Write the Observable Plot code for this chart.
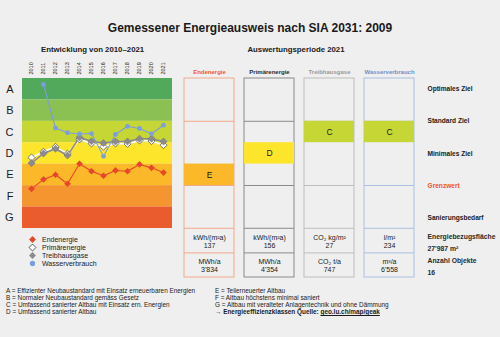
<!DOCTYPE html>
<html><head><meta charset="utf-8">
<script src="https://cdn.jsdelivr.net/npm/d3@7"></script>
<script src="https://cdn.jsdelivr.net/npm/@observablehq/plot@0.6"></script>
<style>
body{margin:0;background:#efefef;font-family:"Liberation Sans",Arial,sans-serif;}
#root{position:relative;width:500px;height:337px;overflow:hidden;background:#efefef;color:#1a1a1a;}
.abs{position:absolute;white-space:nowrap;}
.t{font-weight:bold;}
.foot{font-size:6.4px;line-height:7.2px;}
.foot a{color:#1a1a1a;}
</style></head><body><div id="root"></div>
<script>
// ---- data ----
const years = [2010,2011,2012,2013,2014,2015,2016,2017,2018,2019,2020,2021];
const classes = ["A","B","C","D","E","F","G"];
const classColors = ["#52a85b","#8bc052","#c6d634","#fde52c","#fbb828","#f5952f","#ea5b2d"];
// values in class units (0 = top of A, 7 = bottom of G)
const endenergie = [5.15,4.71,4.49,4.91,3.98,4.33,4.54,4.29,4.33,4.01,4.17,4.39];
const primaer    = [3.69,3.42,3.19,3.51,2.84,3.03,3.18,3.03,3.05,2.89,2.92,3.11];
const treibhaus  = [3.95,3.50,3.28,3.59,2.75,2.93,3.01,2.94,2.94,2.81,2.81,2.94];
const wasser     = [null,0.28,2.31,2.53,2.59,2.57,3.63,2.61,2.23,2.33,2.58,2.18];

const metrics = ["Endenergie","Primärenergie","Treibhausgase","Wasserverbrauch"];
const metricColors = ["#f05a28","#2a2a2a","#9a9a9a","#6f90c9"];
const boxStrokes = ["#f2a98c","#8a8a8a","#bdbdbd","#aabfe0"];
const grades2021 = ["E","D","C","C"];
const unit1 = ["kWh/(m²a)","kWh/(m²a)","CO₂ kg/m²","l/m²"];
const value1 = ["137","156","27","234"];
const unit2 = ["MWh/a","MWh/a","CO₂ t/a","m³/a"];
const value2 = ["3'834","4'354","747","6'558"];

const targetLabels = ["Optimales Ziel","Standard Ziel","Minimales Ziel","Grenzwert","Sanierungsbedarf"];
const targetAt = [0.5,2,3.5,5,6.5];

const legendNames = ["Endenergie","Primärenergie","Treibhausgase","Wasserverbrauch"];

const footLeft = ["A = Effizienter Neubaustandard mit Einsatz erneuerbaren Energien","B = Normaler Neubaustandard gemäss Gesetz","C = Umfassend sanierter Altbau mit Einsatz ern. Energien","D = Umfassend sanierter Altbau"];
const footRight = ["E = Teilerneuerter Altbau","F = Altbau höchstens minimal saniert","G = Altbau mit veralteter Anlagentechnik und ohne Dämmung"];

// ---- helpers ----
const FONT = '"Liberation Sans",Arial,sans-serif';
const root = document.getElementById("root");
function place(el, left, top){const d=document.createElement("div");d.className="abs";d.style.left=left+"px";d.style.top=top+"px";d.appendChild(el);root.appendChild(d);return d;}
function txt(s, left, top, size, extra){const d=document.createElement("div");d.className="abs t";d.textContent=s;d.style.left=left+"px";d.style.top=top+"px";d.style.fontSize=size+"px";d.style.lineHeight=size+"px";if(extra)Object.assign(d.style,extra);root.appendChild(d);return d;}

// titles
txt("Gemessener Energieausweis nach SIA 2031: 2009", 0, 22, 12, {width:"500px",textAlign:"center"});
txt("Entwicklung von 2010–2021", 41, 46, 7.8, {width:"100px",textAlign:"center"});
txt("Auswertungsperiode 2021", 246, 45.5, 7.8, {width:"100px",textAlign:"center"});

// ---- left chart ----
const classTable = classes.map((c,i)=>({cls:c, i, color:classColors[i]}));
const long = (arr, name) => years.map((y,i)=>({year:y, value:arr[i], series:name})).filter(d=>d.value!=null);
const dEnd = long(endenergie,"Endenergie"), dPri = long(primaer,"Primärenergie"), dTre = long(treibhaus,"Treibhausgase"), dWas = long(wasser,"Wasserverbrauch");

const left = Plot.plot({
  width:180, height:175, marginLeft:22, marginRight:8, marginTop:23, marginBottom:2,
  style:{background:"transparent", fontFamily:FONT, color:"#1a1a1a"},
  x:{type:"point", domain:years, padding:0.5, label:null},
  y:{domain:[0,7], reverse:true, label:null},
  color:{type:"identity"},
  marks:[
    Plot.rect(classTable,{y1:d=>d.i, y2:d=>d.i+1, fill:d=>d.color}),
    Plot.axisY({ticks:d3.range(7).map(i=>i+0.5), tickFormat:v=>classes[Math.floor(v)], tickSize:0, tickPadding:9, fontSize:11, anchor:"left", label:null}),
    Plot.axisX({anchor:"top", tickSize:0, tickPadding:4, tickRotate:-90, fontSize:5.5, tickFormat:d=>String(d), label:null}),
    Plot.line(dPri,{x:"year", y:"value", stroke:"#ffffff", strokeWidth:1.6}),
    Plot.line(dTre,{x:"year", y:"value", stroke:"#8a8a8f", strokeWidth:1.6}),
    Plot.line(dWas,{x:"year", y:"value", stroke:"#7b9de2", strokeWidth:1.1}),
    Plot.line(dEnd,{x:"year", y:"value", stroke:"#e8462a", strokeWidth:1.1}),
    Plot.dot(dPri,{x:"year", y:"value", symbol:"diamond2", r:3.2, fill:"#ffffff", stroke:"#555", strokeWidth:0.8}),
    Plot.dot(dTre,{x:"year", y:"value", symbol:"diamond2", r:3.2, fill:"#8a8a8f", stroke:"#7a7a7f", strokeWidth:0.6}),
    Plot.dot(dWas,{x:"year", y:"value", r:2.4, fill:"#7b9de2"}),
    Plot.dot(dEnd,{x:"year", y:"value", symbol:"diamond2", r:3, fill:"#e8462a"})
  ]
});
place(left, 0, 55);

// ---- legend ----
const legTable = legendNames.map((n,i)=>({name:n, i}));
const legSymbols = ["diamond2","diamond2","diamond2","circle"];
const legFill = ["#e8462a","#ffffff","#8a8a8f","#7b9de2"];
const legStroke = ["none","#333","none","none"];
const legend = Plot.plot({
  width:110, height:33, marginLeft:4, marginRight:0, marginTop:0, marginBottom:0,
  style:{background:"transparent", fontFamily:FONT, color:"#1a1a1a"},
  y:{type:"band", domain:legendNames, padding:0, axis:null},
  color:{type:"identity"},
  symbol:{type:"identity"},
  marks:[
    Plot.dot(legTable,{y:"name", frameAnchor:"left", symbol:d=>legSymbols[d.i], r:d=>d.i===3?2.2:3, fill:d=>legFill[d.i], stroke:d=>legStroke[d.i], strokeWidth:0.8}),
    Plot.text(legTable,{y:"name", text:"name", frameAnchor:"left", textAnchor:"start", dx:9.5, fontSize:7, fill:"#1a1a1a"})
  ]
});
place(legend, 28, 234);

// ---- right panel ----
const metricTable = metrics.map((m,i)=>({name:m, i, color:metricColors[i], stroke:boxStrokes[i], grade:grades2021[i], gi:classes.indexOf(grades2021[i]), u1:unit1[i], v1:value1[i], u2:unit2[i], v2:value2[i]}));
const lineRows = metricTable.flatMap(d=>[2,5,7,8.15].map(at=>({name:d.name, at, stroke:d.stroke})));
const targetTable = targetLabels.map((l,i)=>({label:l, at:targetAt[i], color: l==="Grenzwert" ? "#f05a28" : "#1a1a1a"}));

const right = Plot.plot({
  width:325, height:225, marginLeft:8, marginRight:85, marginTop:23, marginBottom:3,
  style:{background:"transparent", fontFamily:FONT, color:"#1a1a1a"},
  x:{type:"band", domain:metrics, paddingInner:0.175, paddingOuter:0, axis:null},
  y:{domain:[0,9.3], reverse:true, axis:null},
  color:{type:"identity"},
  marks:[
    Plot.barY(metricTable,{x:"name", y1:0, y2:9.3, fill:"none", stroke:"stroke", strokeWidth:1}),
    Plot.tickY(lineRows,{x:"name", y:"at", stroke:"stroke", strokeWidth:1}),
    Plot.barY(metricTable,{x:"name", y1:d=>d.gi, y2:d=>d.gi+1, fill:d=>classColors[d.gi]}),
    Plot.text(metricTable,{x:"name", y:d=>d.gi+0.5, text:"grade", fontSize:8.5, fill:"#1a1a1a"}),
    Plot.text(metricTable,{x:"name", text:"name", frameAnchor:"top", dy:-9, fill:"color", fontWeight:"bold", fontSize:6}),
    Plot.text(metricTable,{x:"name", y:7.6, text:d=>d.u1+"\n"+d.v1, fontSize:7, lineHeight:1.2, fill:"#1a1a1a"}),
    Plot.text(metricTable,{x:"name", y:8.72, text:d=>d.u2+"\n"+d.v2, fontSize:7, lineHeight:1.2, fill:"#1a1a1a"}),
    Plot.text(targetTable,{y:"at", text:"label", frameAnchor:"right", textAnchor:"start", dx:12, fill:"color", fontWeight:"bold", fontSize:6.6}),
    Plot.text(["Energiebezugsfläche\n27'987 m²\nAnzahl Objekte\n16"],{text:d=>d, frameAnchor:"bottom-right", textAnchor:"start", lineAnchor:"bottom", dx:12, dy:-3, fontSize:6.8, lineHeight:1.75, fontWeight:"bold", fill:"#2a2a2a"})
  ]
});
place(right, 175, 55);

// ---- footer ----
const fl = document.createElement("div"); fl.className="foot"; fl.innerHTML = footLeft.join("<br>");
place(fl, 6, 286.5);
const fr = document.createElement("div"); fr.className="foot"; fr.innerHTML = footRight.join("<br>") + '<br><b>→ Energieeffizienzklassen Quelle: <a href="#">geo.lu.ch/map/geak</a></b>';
place(fr, 215, 286.5);
</script></body></html>
